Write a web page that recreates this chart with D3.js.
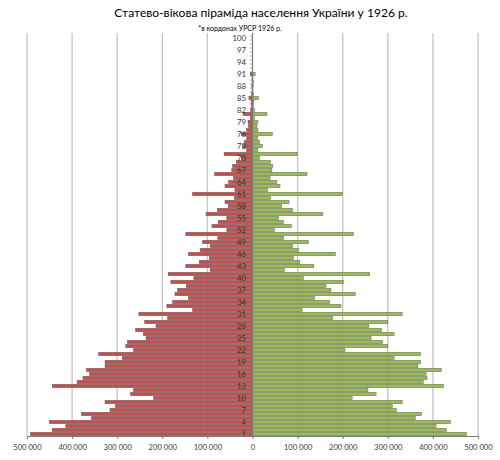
<!DOCTYPE html>
<html><head><meta charset="utf-8">
<script src="https://cdn.jsdelivr.net/npm/d3@7"></script>
<style>body{margin:0;background:#fff} svg{display:block}</style>
</head><body><svg id="c" width="500" height="460"></svg>
<script>
const title = "Статево-вікова піраміда населення України у 1926 р.";
const subtitle = "*в кордонах УРСР 1926 р.";
const ages = [1,2,3,4,5,6,7,8,9,10,11,12,13,14,15,16,17,18,19,20,21,22,23,24,25,26,27,28,29,30,
  31,32,33,34,35,36,37,38,39,40,41,42,43,44,45,46,47,48,49,50,51,52,53,54,55,56,57,58,59,60,
  61,62,63,64,65,66,67,68,69,70,71,72,73,74,75,76,77,78,79,80,81,82,83,84,85,86,87,88,89,90,
  91,92,93,94,95,96,97,98,99,100];
const male = [492000,444000,414000,450000,357000,379000,316000,304000,327000,219000,
  270000,264000,444000,389000,376000,361000,368000,327000,327000,289000,
  341000,264000,281000,277000,236000,242000,259000,214000,239000,188000,
  252000,133000,190000,177000,142000,172000,166000,147000,181000,130000,
  187000,94000,148000,118000,96000,142000,116000,94000,111000,77000,
  148000,57000,90000,76000,57000,103000,78000,54000,61000,40000,
  133000,39000,61000,53000,42000,84000,46000,44000,36000,25000,
  63000,13000,22000,18000,13000,25000,13000,9000,10000,5000,
  21000,4000,2000,3000,8000,2000,1000,1500,1000,1000,
  5000,500,400,300,300,300,200,200,100,200];
const female = [474000,430000,407000,439000,361000,375000,319000,310000,332000,221000,
  274000,256000,424000,379000,387000,385000,419000,367000,373000,314000,
  373000,205000,300000,288000,263000,314000,286000,258000,300000,178000,
  332000,110000,196000,171000,138000,228000,174000,163000,202000,113000,
  260000,71000,136000,105000,91000,184000,102000,89000,124000,69000,
  224000,49000,86000,69000,58000,156000,89000,65000,81000,40000,
  200000,34000,61000,54000,39000,121000,43000,45000,40000,16000,
  100000,12000,22000,16000,12000,44000,12000,10000,12000,4000,
  32000,4000,2000,3000,13000,2000,1000,1500,2000,1000,
  6000,600,500,400,400,300,300,200,200,200];
const xTicks = [-500000,-400000,-300000,-200000,-100000,0,100000,200000,300000,400000,500000];
const ageLabels = [1,4,7,10,13,16,19,22,25,28,31,34,37,40,43,46,49,52,55,58,61,64,67,70,73,76,79,82,85,88,91,94,97,100];

const font = "Lato, 'Open Sans', 'DejaVu Sans', sans-serif";
const svg = d3.select("#c");
const x = d3.scaleLinear().domain([-500000, 500000]).range([27, 478]);
const y = d3.scaleBand().domain(ages.slice().reverse()).range([36, 436]).paddingInner(0.15).paddingOuter(0.075);
const plotTop = 33, plotBottom = 436;

// gridlines
svg.append("g").selectAll("line").data(xTicks.filter(d => d !== 0)).join("line")
  .attr("x1", d => x(d)).attr("x2", d => x(d))
  .attr("y1", plotTop).attr("y2", plotBottom)
  .attr("stroke", "#c4c4c4").attr("stroke-width", 1.3);

// bars
svg.append("g").selectAll("rect").data(ages).join("rect")
  .attr("x", (d, i) => x(-male[i]))
  .attr("y", d => y(d))
  .attr("width", (d, i) => x(0) - x(-male[i]))
  .attr("height", y.bandwidth())
  .attr("fill", "#C0504D").attr("stroke", "#6a5a5a").attr("stroke-width", 0.5);
svg.append("g").selectAll("rect").data(ages).join("rect")
  .attr("x", x(0))
  .attr("y", d => y(d))
  .attr("width", (d, i) => x(female[i]) - x(0))
  .attr("height", y.bandwidth())
  .attr("fill", "#9BBB59").attr("stroke", "#5f6a55").attr("stroke-width", 0.5);

// zero axis with category ticks
const x0 = x(0);
svg.append("line").attr("x1", x0).attr("x2", x0).attr("y1", plotTop).attr("y2", plotBottom)
  .attr("stroke", "#7a7a7a").attr("stroke-width", 1.2);
svg.append("g").selectAll("line").data(ages).join("line")
  .attr("x1", x0 - 2.5).attr("x2", x0)
  .attr("y1", d => y(d) - y.step() * y.paddingInner() / 2)
  .attr("y2", d => y(d) - y.step() * y.paddingInner() / 2)
  .attr("stroke", "#7a7a7a").attr("stroke-width", 0.6);

// age labels
svg.append("g").selectAll("text").data(ageLabels).join("text")
  .attr("x", x0 - 6.5).attr("y", d => y(d) + y.bandwidth() / 2)
  .attr("dy", "0.35em").attr("text-anchor", "end")
  .attr("font-family", font).attr("font-size", 7.8).attr("fill", "#333")
  .text(d => d);

// bottom axis
const fmt = v => d3.format(",")(Math.abs(v)).replace(/,/g, " ");
const xAxis = d3.axisBottom(x).tickValues(xTicks).tickFormat(fmt).tickSize(3).tickSizeOuter(0);
const ax = svg.append("g").attr("transform", `translate(0,${plotBottom})`).call(xAxis);
ax.select(".domain").attr("stroke", "#7a7a7a").attr("stroke-width", 1.2);
ax.selectAll(".tick line").attr("stroke", "#7a7a7a");
ax.selectAll(".tick text").attr("font-family", font).attr("font-size", 7.6)
  .attr("fill", "#404040").attr("y", 9);

// titles
svg.append("text").attr("x", 261).attr("y", 17.3).attr("text-anchor", "middle")
  .attr("font-family", font).attr("font-size", 12.1).attr("fill", "#000")
  .text(title);
svg.append("text").attr("x", 240).attr("y", 30.5).attr("text-anchor", "middle")
  .attr("font-family", font).attr("font-size", 7).attr("fill", "#000")
  .text(subtitle);
</script></body></html>
